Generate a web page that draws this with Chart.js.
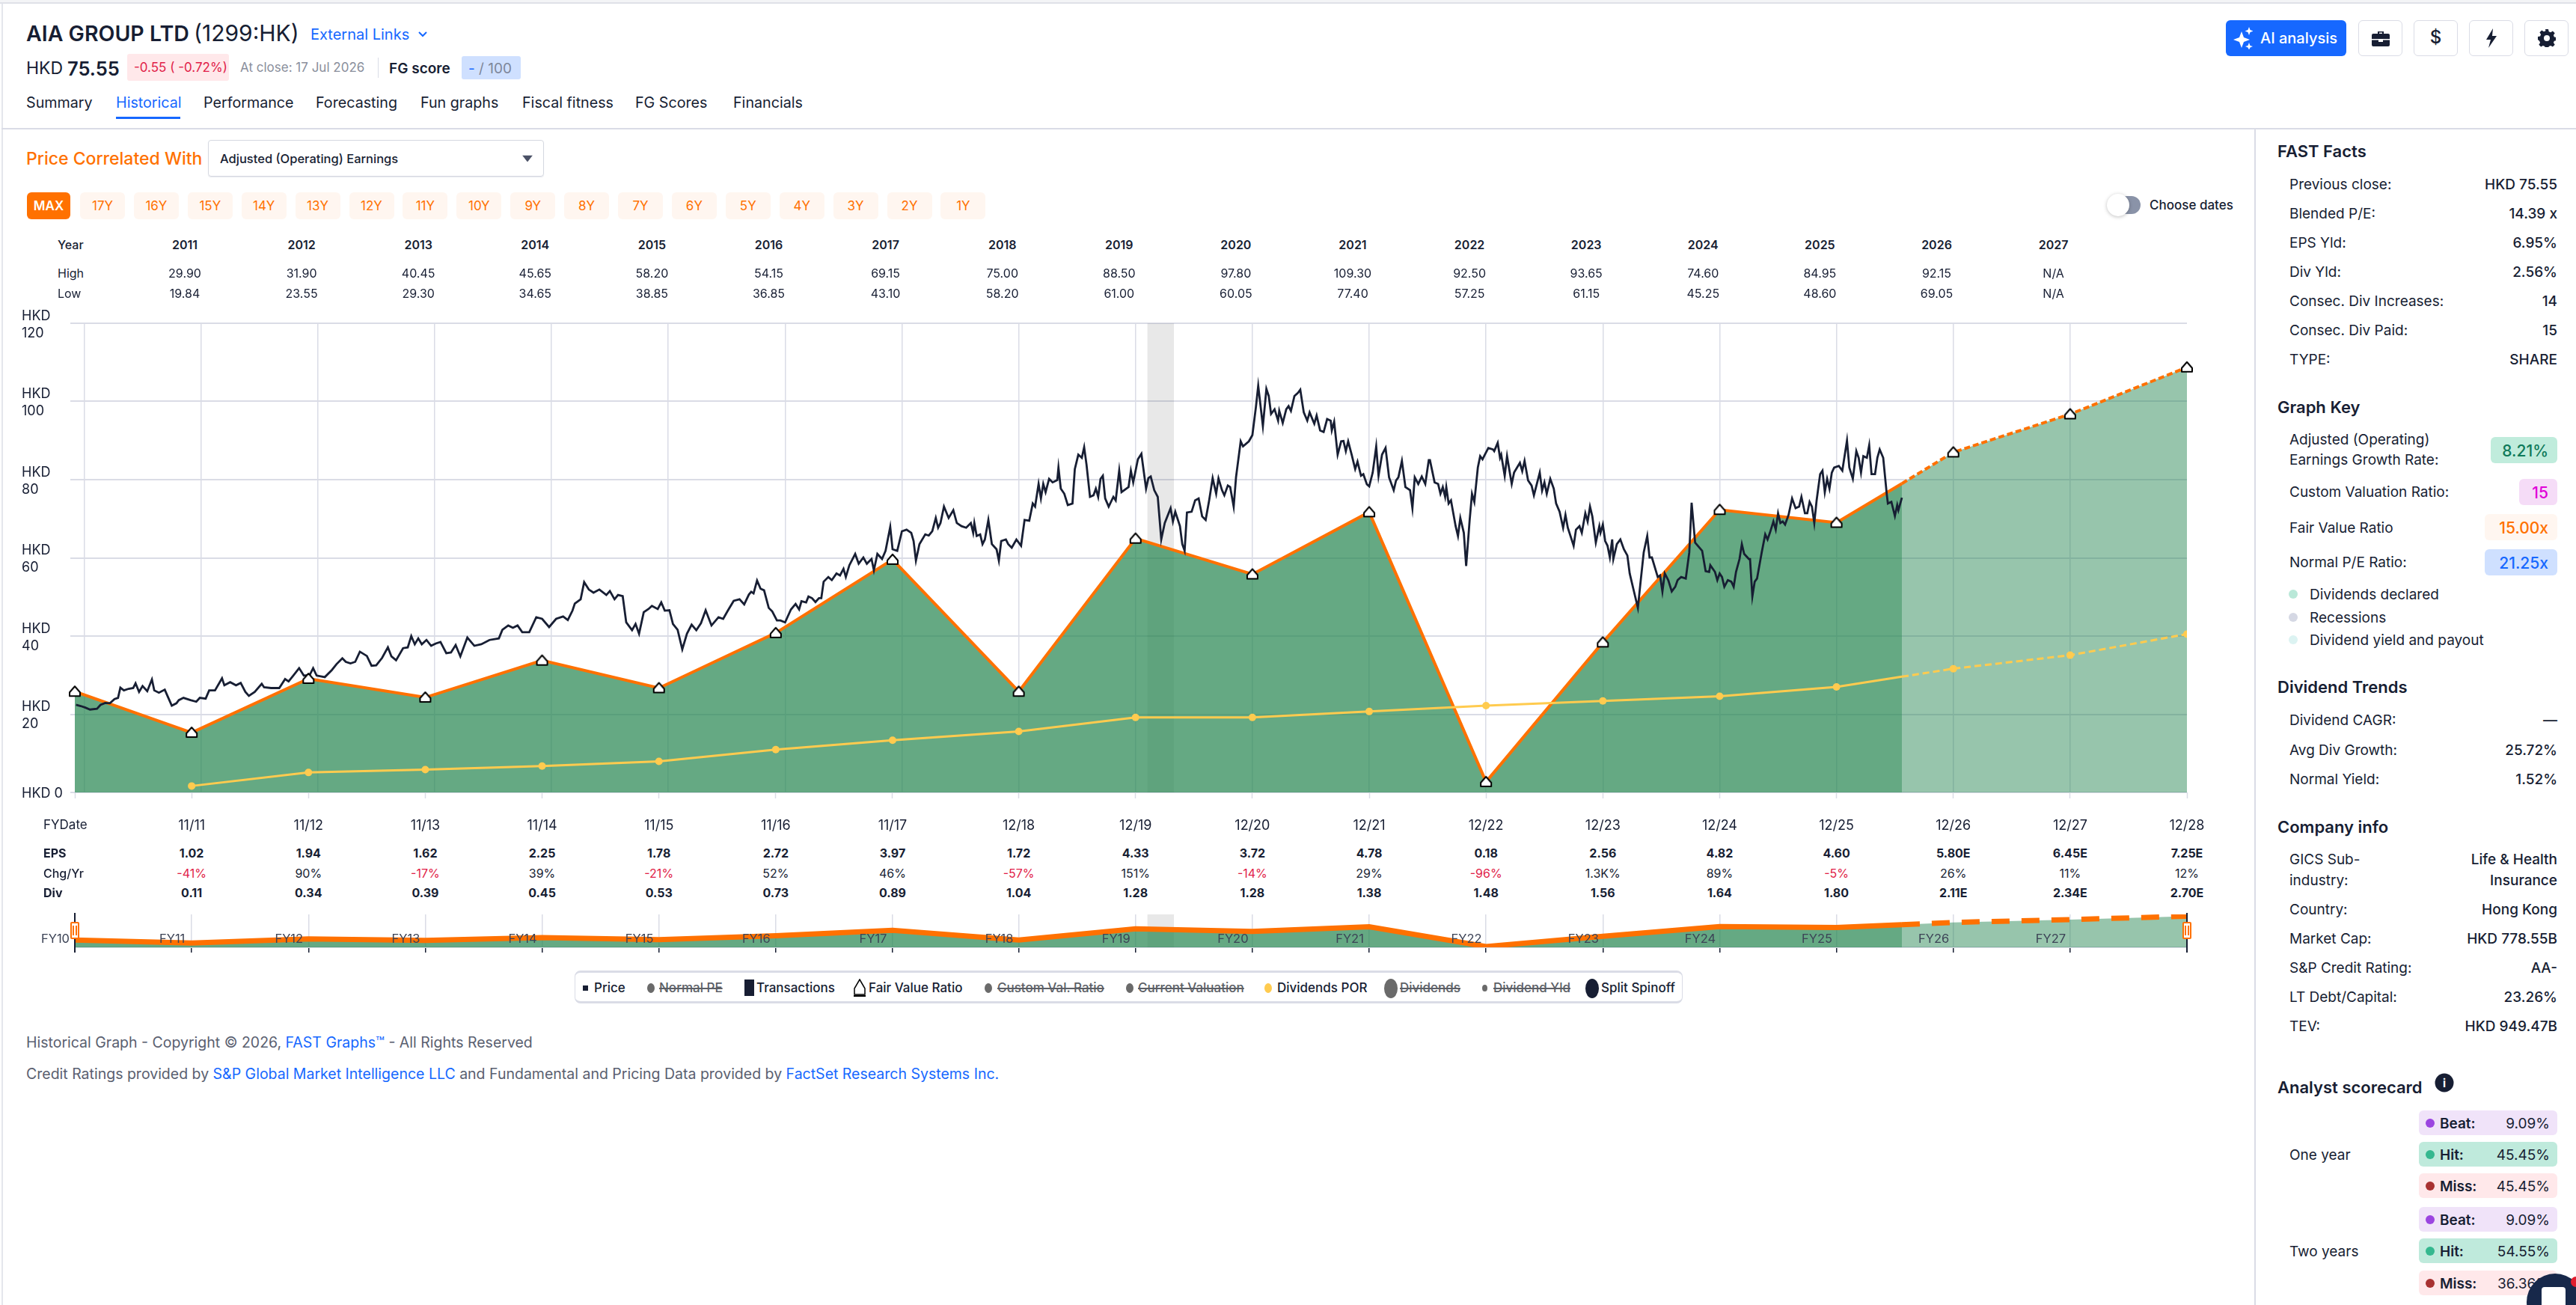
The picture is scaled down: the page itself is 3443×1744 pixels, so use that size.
<!DOCTYPE html>
<html>
<head>
<meta charset="utf-8">
<title>AIA GROUP LTD - Historical</title>
<script src="https://cdn.jsdelivr.net/npm/chart.js@4"></script>
<style>
  html, body { margin: 0; padding: 0; background: #fff; }
  body { position: relative; width: 3443px; height: 1744px; overflow: hidden; font-family: Inter, sans-serif; color: #171e33; }
  .t { position: absolute; white-space: nowrap; transform: translateY(-50%); }
  .box { position: absolute; box-sizing: border-box; }
  canvas { position: absolute; left: 0; }
  s { text-decoration-thickness: 2px; color: #5c5f66; }
</style>
</head>
<body>
<canvas id="graficoPreco" width="3013" height="720" style="top:400px"></canvas>
<canvas id="graficoNav" width="3013" height="64" style="top:1215px"></canvas>
<script>
// dates are years since 2000 as decimals, 11.92 = end of Nov 2011
const fyDates = [10.92, 11.92, 12.92, 13.92, 14.92, 15.92, 16.92, 17.92, 19, 20, 21, 22, 23, 24, 25, 26, 27, 28, 29];
const fyDateLabels = ['', '11/11', '11/12', '11/13', '11/14', '11/15', '11/16', '11/17', '12/18', '12/19', '12/20', '12/21', '12/22', '12/23', '12/24', '12/25', '12/26', '12/27', '12/28'];
const fyNames = ['FY10', 'FY11', 'FY12', 'FY13', 'FY14', 'FY15', 'FY16', 'FY17', 'FY18', 'FY19', 'FY20', 'FY21', 'FY22', 'FY23', 'FY24', 'FY25', 'FY26', 'FY27'];
const fairValue = [25.8, 15.3, 29.1, 24.3, 33.75, 26.7, 40.8, 59.55, 25.8, 64.95, 55.8, 71.7, 2.7, 38.4, 72.3, 69.0, 87.0, 96.75, 108.75];
const dividendsPor = [null, 1.65, 5.1, 5.85, 6.75, 7.95, 10.95, 13.35, 15.6, 19.2, 19.2, 20.7, 22.2, 23.4, 24.6, 27.0, 31.65, 35.1, 40.5];
const nowDate = 26.56;
const fairValueNow = 79;
const dividendsPorNow = 29.6;
const recessionDates = [20.10, 20.33];
const gridYears = [11, 12, 13, 14, 15, 16, 17, 18, 19, 20, 21, 22, 23, 24, 25, 26, 27, 28];
const priceTicks = [0, 20, 40, 60, 80, 100, 120];

const priceDates = [
  10.93, 10.97, 11.01, 11.05, 11.11, 11.14, 11.18, 11.22, 11.26, 11.29,
  11.31, 11.34, 11.38, 11.42, 11.44, 11.47, 11.50, 11.54, 11.58, 11.60,
  11.64, 11.69, 11.71, 11.75, 11.79, 11.81, 11.85, 11.91, 11.96, 11.99,
  12.04, 12.07, 12.12, 12.18, 12.20, 12.25, 12.30, 12.34, 12.38, 12.41,
  12.46, 12.52, 12.54, 12.60, 12.67, 12.72, 12.75, 12.79, 12.84, 12.88,
  12.93, 12.96, 12.99, 13.06, 13.12, 13.16, 13.21, 13.24, 13.28, 13.32,
  13.36, 13.42, 13.46, 13.50, 13.55, 13.60, 13.63, 13.67, 13.73, 13.77,
  13.80, 13.83, 13.86, 13.89, 13.93, 13.97, 14.01, 14.05, 14.10, 14.14,
  14.18, 14.22, 14.28, 14.34, 14.40, 14.47, 14.55, 14.58, 14.63, 14.67,
  14.71, 14.75, 14.81, 14.87, 14.92, 14.98, 15.04, 15.10, 15.14, 15.18,
  15.20, 15.25, 15.28, 15.32, 15.36, 15.41, 15.47, 15.50, 15.54, 15.57,
  15.61, 15.64, 15.69, 15.72, 15.75, 15.79, 15.83, 15.86, 15.91, 15.94,
  15.97, 16.01, 16.04, 16.08, 16.12, 16.16, 16.20, 16.24, 16.28, 16.32,
  16.37, 16.43, 16.47, 16.51, 16.56, 16.61, 16.65, 16.69,
  16.71, 16.73, 16.76, 16.79, 16.82, 16.86, 16.89, 16.93, 16.96, 17.00,
  17.05, 17.09, 17.12, 17.14, 17.18, 17.20, 17.23, 17.26, 17.29, 17.31,
  17.33, 17.37, 17.40, 17.44, 17.47, 17.50, 17.52, 17.55, 17.60, 17.63,
  17.67, 17.70, 17.74, 17.76, 17.79, 17.83, 17.86, 17.90, 17.92, 17.96,
  18.00, 18.04, 18.08, 18.10, 18.12, 18.15, 18.20, 18.23, 18.26, 18.29,
  18.31, 18.33, 18.36, 18.40, 18.44, 18.47, 18.51, 18.55, 18.59, 18.61,
  18.62, 18.64, 18.67, 18.69, 18.71, 18.74, 18.77, 18.81, 18.83, 18.85,
  18.89, 18.91, 18.94, 18.98, 19.02, 19.05, 19.09, 19.12, 19.14, 19.17,
  19.19, 19.21, 19.23, 19.26, 19.29, 19.33, 19.34, 19.36, 19.39, 19.42,
  19.46, 19.48, 19.51, 19.54, 19.56, 19.58, 19.61, 19.64, 19.66, 19.68,
  19.70, 19.72, 19.74, 19.77, 19.81, 19.83, 19.86, 19.88, 19.92, 19.94,
  19.96, 19.98, 20.02, 20.05, 20.09, 20.11, 20.13, 20.16, 20.19, 20.22,
  20.25, 20.30, 20.32, 20.34, 20.38, 20.40, 20.42, 20.44, 20.48, 20.51,
  20.54, 20.57, 20.60, 20.63, 20.66, 20.69, 20.71, 20.74, 20.76, 20.79,
  20.81, 20.84, 20.86, 20.90, 20.92, 20.97, 21.00, 21.03, 21.05, 21.09,
  21.12, 21.14, 21.16, 21.19, 21.22, 21.23, 21.26, 21.29, 21.31, 21.33,
  21.36, 21.39, 21.41, 21.44, 21.47, 21.49, 21.53, 21.55, 21.58, 21.61,
  21.64, 21.67, 21.68, 21.70, 21.73, 21.76, 21.78, 21.80, 21.82, 21.85,
  21.88, 21.90, 21.93, 21.95, 21.98, 22.00, 22.03, 22.06, 22.08, 22.11,
  22.14, 22.17, 22.21, 22.23, 22.25, 22.28, 22.31, 22.35, 22.37, 22.39,
  22.42, 22.45, 22.48, 22.51, 22.52, 22.56, 22.59, 22.61, 22.63, 22.65,
  22.66, 22.68, 22.70, 22.72, 22.74, 22.76, 22.78, 22.81, 22.83, 22.86,
  22.88, 22.90, 22.93, 22.95, 22.97, 22.99, 23.02, 23.06, 23.07, 23.10,
  23.12, 23.13, 23.16, 23.18, 23.22, 23.24, 23.29, 23.31, 23.33, 23.36,
  23.39, 23.41, 23.46, 23.48, 23.50, 23.52, 23.55, 23.58, 23.60, 23.63,
  23.66, 23.68, 23.70, 23.75, 23.77, 23.80, 23.82, 23.85, 23.87, 23.89,
  23.91, 23.94, 23.97, 23.98, 24.00, 24.02, 24.04, 24.06, 24.08, 24.09,
  24.12, 24.15, 24.18, 24.21, 24.23, 24.26, 24.30, 24.32, 24.35, 24.38,
  24.40, 24.42, 24.47, 24.49, 24.51, 24.53, 24.56, 24.59, 24.62, 24.64,
  24.67, 24.71, 24.74, 24.76, 24.79, 24.85, 24.88, 24.91, 24.92, 24.96,
  24.98, 25.00, 25.02, 25.04, 25.07, 25.10, 25.12, 25.14, 25.17, 25.19,
  25.21, 25.25, 25.26, 25.28, 25.30, 25.32, 25.36, 25.39, 25.41, 25.43,
  25.46, 25.48, 25.50, 25.52, 25.54, 25.56, 25.59, 25.62, 25.65, 25.68,
  25.70, 25.73, 25.75, 25.77, 25.79, 25.81, 25.83, 25.86, 25.88, 25.90,
  25.92, 25.94, 25.96, 25.98, 26.02, 26.05, 26.09, 26.11, 26.14, 26.17,
  26.19, 26.21, 26.23, 26.26, 26.28, 26.30, 26.33, 26.35, 26.37, 26.40,
  26.43, 26.44, 26.47, 26.50, 26.52, 26.53, 26.56
];
const priceValues = [
  22.4, 22.1, 21.7, 21.2, 21.4, 22.4, 22.9, 22.8, 23.9, 24.2,
  26.8, 26.1, 26.5, 26.7, 27.9, 25.7, 27.2, 25.9, 28.9, 26.1,
  25.5, 26.3, 24.9, 22.2, 22.8, 23.6, 24.2, 23.6, 23.2, 24.2,
  24.0, 26.1, 26.1, 29.2, 27.4, 28.2, 27.4, 28.0, 25.7, 24.7,
  25.7, 27.8, 26.9, 26.7, 26.7, 29.0, 28.4, 29.9, 31.8, 29.9,
  30.0, 31.8, 29.9, 29.5, 31.3, 32.8, 34.3, 33.4, 33.0, 33.4,
  36.0, 34.9, 32.4, 32.5, 34.4, 37.1, 34.8, 33.8, 36.9, 37.1,
  40.0, 37.9, 39.4, 37.9, 39.0, 37.5, 38.1, 38.5, 35.6, 35.8,
  37.7, 34.8, 39.6, 37.5, 37.9, 39.0, 39.4, 41.6, 42.7, 42.1,
  42.7, 41.0, 41.0, 44.8, 44.4, 42.3, 44.4, 45.0, 44.1, 46.5,
  48.3, 49.4, 53.8, 51.9, 51.1, 51.9, 50.5, 51.5, 49.4, 50.5,
  50.2, 43.5, 41.5, 43.1, 40.6, 46.1, 46.9, 47.7, 46.9, 48.6,
  46.5, 46.6, 43.1, 41.6, 36.6, 40.6, 42.9, 41.5, 43.3, 46.6,
  42.7, 44.8, 44.4, 46.5, 49.0, 49.4, 48.1, 50.6,
  51.3, 50.9, 54.2, 52.1, 51.7, 47.2, 46.3, 44.0, 44.0, 43.5,
  46.8, 48.2, 46.8, 48.9, 48.6, 50.1, 49.7, 48.7, 49.7, 49.7,
  53.9, 55.1, 54.3, 56.0, 55.5, 57.2, 55.1, 58.1, 61.0, 58.5,
  60.1, 58.5, 59.7, 56.8, 61.0, 59.7, 61.8, 67.9, 62.2, 61.8,
  66.8, 67.2, 66.4, 64.3, 59.3, 63.5, 66.0, 65.7, 66.8, 70.2,
  67.7, 68.9, 73.1, 70.2, 72.2, 68.9, 68.1, 67.7, 68.9, 66.4,
  68.9, 65.6, 66.0, 63.5, 64.7, 69.7, 63.5, 62.2, 59.3, 64.3,
  64.7, 63.5, 62.6, 64.7, 63.1, 69.7, 69.5, 73.9, 73.1, 78.9,
  75.2, 78.9, 76.8, 80.2, 79.3, 79.9, 83.1, 77.7, 76.4, 73.5,
  73.9, 82.7, 86.4, 85.6, 88.3, 83.9, 75.6, 76.0, 77.7, 75.6,
  80.2, 81.0, 75.2, 73.1, 75.6, 74.7, 82.3, 76.8, 77.7, 78.1,
  82.3, 79.3, 85.2, 86.6, 77.7, 80.4, 80.8, 77.3, 75.6, 64.7,
  68.9, 72.7, 69.3, 71.8, 68.1, 63.5, 61.8, 71.6, 71.8, 74.7,
  75.2, 70.6, 69.7, 74.7, 80.4, 76.4, 80.3, 77.3, 76.0, 78.5,
  78.1, 73.1, 80.6, 89.8, 88.5, 89.8, 91.4, 98.5, 104.0, 93.7,
  103.2, 101.4, 96.8, 98.0, 95.1, 97.6, 94.5, 98.0, 98.8, 97.6,
  101.4, 102.2, 103.0, 97.2, 95.1, 97.2, 94.3, 96.4, 92.6, 92.2,
  95.5, 95.1, 92.6, 94.8, 86.4, 89.8, 89.9, 87.3, 89.8, 86.4,
  82.7, 84.6, 81.0, 81.4, 78.8, 78.3, 81.8, 88.5, 81.0, 86.4,
  88.1, 80.6, 77.3, 79.8, 80.6, 84.8, 78.1, 77.3, 72.7, 80.6,
  78.9, 80.8, 78.9, 85.0, 85.0, 79.3, 78.9, 76.4, 78.1, 75.6,
  78.1, 73.9, 74.7, 71.4, 68.1, 65.6, 70.2, 66.4, 57.9, 69.7,
  76.4, 74.3, 83.1, 86.0, 85.2, 86.4, 88.1, 87.7, 87.3, 89.4,
  85.6, 86.4, 81.0, 86.0, 78.9, 81.8, 84.3, 82.2, 84.8, 79.8,
  78.5, 76.0, 81.8, 77.2, 79.3, 76.4, 80.2, 77.7, 73.9, 71.8,
  67.7, 71.0, 67.7, 63.1, 67.2, 68.1, 66.4, 71.4, 69.3, 73.1,
  70.6, 63.9, 68.1, 66.4, 68.5, 64.3, 63.1, 60.1, 64.7, 59.7,
  63.5, 64.7, 62.2, 60.6, 56.0, 52.2, 47.2, 53.0, 61.4, 65.6,
  60.1, 60.1, 55.1, 55.5, 51.4, 56.0, 54.3, 51.4, 52.6, 54.3,
  55.1, 54.7, 61.4, 74.1, 63.9, 61.8, 56.6, 56.4, 58.1, 56.4,
  54.3, 56.0, 55.1, 52.6, 54.3, 53.9, 52.6, 56.4, 59.7, 63.5,
  61.0, 59.7, 59.7, 50.1, 53.9, 54.7, 61.4, 66.0, 64.7, 66.4,
  69.3, 67.2, 71.4, 68.9, 69.3, 68.5, 71.0, 75.2, 72.7, 73.1,
  75.6, 71.4, 71.4, 74.3, 73.1, 68.9, 74.7, 81.4, 82.3, 76.8,
  80.2, 77.7, 81.8, 83.1, 83.5, 82.3, 90.0, 83.1, 80.2, 87.3,
  85.6, 81.8, 86.0, 85.6, 88.8, 81.4, 81.4, 85.6, 87.7, 85.6,
  76.4, 73.9, 74.3, 70.7, 73.5, 72.2, 75.4
];

const years = ['2011', '2012', '2013', '2014', '2015', '2016', '2017', '2018', '2019', '2020', '2021', '2022', '2023', '2024', '2025', '2026', '2027'];
const highs = ['29.90', '31.90', '40.45', '45.65', '58.20', '54.15', '69.15', '75.00', '88.50', '97.80', '109.30', '92.50', '93.65', '74.60', '84.95', '92.15', 'N/A'];
const lows = ['19.84', '23.55', '29.30', '34.65', '38.85', '36.85', '43.10', '58.20', '61.00', '60.05', '77.40', '57.25', '61.15', '45.25', '48.60', '69.05', 'N/A'];
const eps = ['1.02', '1.94', '1.62', '2.25', '1.78', '2.72', '3.97', '1.72', '4.33', '3.72', '4.78', '0.18', '2.56', '4.82', '4.60', '5.80E', '6.45E', '7.25E'];
const chgYr = ['-41%', '90%', '-17%', '39%', '-21%', '52%', '46%', '-57%', '151%', '-14%', '29%', '-96%', '1.3K%', '89%', '-5%', '26%', '11%', '12%'];
const divs = ['0.11', '0.34', '0.39', '0.45', '0.53', '0.73', '0.89', '1.04', '1.28', '1.28', '1.38', '1.48', '1.56', '1.64', '1.80', '2.11E', '2.34E', '2.70E'];
const rangeButtons = ['MAX', '17Y', '16Y', '15Y', '14Y', '13Y', '12Y', '11Y', '10Y', '9Y', '8Y', '7Y', '6Y', '5Y', '4Y', '3Y', '2Y', '1Y'];

const ORANGE = '#ff7100', BLUE = '#1668ff', INK = '#171e33', LINE = '#dadce6';
const VERDE = 'rgba(35,132,78,0.7)', VERDE_CLARO = 'rgba(35,132,78,0.47)';

function pares(datas, valores) {
    return datas.map((d, i) => ({ x: d, y: valores[i] })).filter(p => p.y !== null);
}

function casinha() {
    const c = document.createElement('canvas');
    c.width = 20; c.height = 18;
    const g = c.getContext('2d');
    g.fillStyle = '#fff';
    g.strokeStyle = '#000';
    g.lineWidth = 2;
    g.lineJoin = 'round';
    g.beginPath();
    g.moveTo(10, 2);
    g.lineTo(17, 10);
    g.lineTo(17, 15);
    g.lineTo(3, 15);
    g.lineTo(3, 10);
    g.closePath();
    g.fill();
    g.stroke();
    return c;
}

// dom helpers
function txt(x, y, s, css) {
    const d = document.createElement('div');
    d.className = 't';
    d.style.cssText = `left:${x}px;top:${y}px;` + (css || '');
    d.innerHTML = s;
    document.body.appendChild(d);
    return d;
}
function txtR(xr, y, s, css) {
    return txt(0, y, s, `left:auto;right:${3443 - xr}px;` + (css || ''));
}
function txtC(x, y, s, css) {
    return txt(x, y, s, 'transform:translate(-50%,-50%);' + (css || ''));
}
function box(x, y, w, h, css) {
    const d = document.createElement('div');
    d.className = 'box';
    d.style.cssText = `left:${x}px;top:${y}px;width:${w}px;height:${h}px;` + (css || '');
    document.body.appendChild(d);
    return d;
}

const fvPassado = pares(fyDates.slice(0, 16), fairValue.slice(0, 16)).concat([{ x: nowDate, y: fairValueNow }]);
const fvFuturo = [{ x: nowDate, y: fairValueNow }].concat(pares(fyDates.slice(16), fairValue.slice(16)));
const divPassado = pares(fyDates.slice(0, 16), dividendsPor.slice(0, 16)).concat([{ x: nowDate, y: dividendsPorNow }]);
const divFuturo = [{ x: nowDate, y: dividendsPorNow }].concat(pares(fyDates.slice(16), dividendsPor.slice(16)));

const graficoPreco = new Chart(document.getElementById('graficoPreco').getContext('2d'), {
    type: 'line',
    data: {
        datasets: [
            { label: 'Recession', data: [{ x: recessionDates[0], y: 120 }, { x: recessionDates[1], y: 120 }], borderWidth: 0, pointRadius: 0, fill: 'origin', backgroundColor: 'rgba(0,0,0,0.09)', order: 6 },
            { label: 'Fair Value', data: fvPassado, borderColor: ORANGE, borderWidth: 4, pointRadius: 0, fill: 'origin', backgroundColor: VERDE, order: 5 },
            { label: 'Fair Value est', data: fvFuturo, borderColor: ORANGE, borderWidth: 4, borderDash: [8, 4], pointRadius: 0, fill: 'origin', backgroundColor: VERDE_CLARO, order: 5 },
            { label: 'Dividends POR', data: divPassado, borderColor: '#ffcb4f', borderWidth: 3, pointRadius: ctx => ctx.raw.x === nowDate ? 0 : 5, pointBackgroundColor: '#ffcb4f', pointBorderWidth: 0, order: 4 },
            { label: 'Dividends POR est', data: divFuturo, borderColor: '#ffcb4f', borderWidth: 3, borderDash: [9, 5], pointRadius: ctx => ctx.raw.x === nowDate ? 0 : 5, pointBackgroundColor: '#ffcb4f', pointBorderWidth: 0, order: 4 },
            { label: 'Price', data: pares(priceDates, priceValues), borderColor: INK, borderWidth: 2.8, pointRadius: 0, order: 3 },
            { label: 'Fair Value Ratio', data: pares(fyDates, fairValue), showLine: false, pointStyle: casinha(), clip: false, order: 1 }
        ]
    },
    options: {
        responsive: false,
        animation: false,
        events: [],
        layout: { padding: { left: 29, right: 90, top: 32, bottom: 0 } },
        plugins: { legend: { display: false }, tooltip: { enabled: false } },
        scales: {
            x: {
                type: 'linear', min: 10.92, max: 29,
                border: { display: false },
                afterBuildTicks: axis => { axis.ticks = gridYears.map(v => ({ value: v })); },
                afterFit: axis => { axis.height = 0; },
                ticks: { display: false },
                grid: { color: LINE, lineWidth: 1.5, drawTicks: false }
            },
            xFY: {
                type: 'linear', min: 10.92, max: 29, position: 'bottom',
                border: { display: false },
                afterBuildTicks: axis => { axis.ticks = fyDates.map(v => ({ value: v })); },
                afterFit: axis => { axis.height = 61; },
                ticks: {
                    autoSkip: false, maxRotation: 0, padding: 26, color: INK,
                    font: { family: 'Inter', size: 18 },
                    callback: (v, i) => fyDateLabels[i]
                },
                grid: { drawOnChartArea: false, tickLength: 8, tickColor: LINE, tickWidth: 1.5 }
            },
            y: {
                min: 0, max: 120,
                border: { display: false },
                afterBuildTicks: axis => { axis.ticks = priceTicks.map(v => ({ value: v })); },
                afterFit: axis => { axis.width = 71; },
                ticks: {
                    crossAlign: 'far', color: INK, padding: 0, labelOffset: 2,
                    font: { family: 'Inter', size: 18, lineHeight: 1.28 },
                    callback: v => v === 0 ? 'HKD 0' : ['HKD', String(v)]
                },
                grid: { color: LINE, lineWidth: 2, tickLength: 6 }
            }
        }
    }
});

const graficoNav = new Chart(document.getElementById('graficoNav').getContext('2d'), {
    type: 'line',
    data: {
        datasets: [
            { data: [{ x: recessionDates[0], y: 115 }, { x: recessionDates[1], y: 115 }], borderWidth: 0, pointRadius: 0, fill: 'origin', backgroundColor: 'rgba(0,0,0,0.09)', order: 6 },
            { data: fvPassado, borderColor: ORANGE, borderWidth: 7, pointRadius: 0, fill: 'origin', backgroundColor: VERDE, order: 5 },
            { data: fvFuturo, borderColor: ORANGE, borderWidth: 7, borderDash: [24, 16], pointRadius: 0, fill: 'origin', backgroundColor: VERDE_CLARO, order: 5 }
        ]
    },
    options: {
        responsive: false,
        animation: false,
        events: [],
        layout: { padding: { left: 100, right: 90, top: 7, bottom: 6 } },
        plugins: { legend: { display: false }, tooltip: { enabled: false } },
        scales: {
            x: {
                type: 'linear', min: 10.92, max: 29,
                border: { color: LINE, width: 2 },
                afterBuildTicks: axis => { axis.ticks = fyDates.map(v => ({ value: v })); },
                afterFit: axis => { axis.height = 7; },
                ticks: { display: false },
                grid: { color: LINE, lineWidth: 1.5, tickLength: 7, tickColor: INK, tickWidth: 1.5 }
            },
            y: { min: 0, max: 115, display: false }
        }
    }
});

const xDe = v => graficoPreco.scales.x.getPixelForValue(v);

// page frame
box(0, 0, 3443, 5, 'background:#f3f4f6;border-bottom:2px solid #dfe1e8');
box(2, 5, 2, 1739, 'background:#e4e6ec');
box(2, 171, 3441, 2, `background:${LINE}`);
box(3013, 172, 2, 1572, `background:${LINE}`);

// header
txt(35, 44, 'AIA GROUP LTD', 'font-size:28.5px;font-weight:600');
txt(259, 44, '(1299:HK)', 'font-size:30px;font-weight:400');
txt(415, 46, 'External Links', `font-size:20px;color:${BLUE}`);
txt(558, 46, '<svg width="14" height="10" viewBox="0 0 14 10"><path d="M2 2l5 5 5-5" fill="none" stroke="#1668ff" stroke-width="2"/></svg>', 'line-height:0');
txt(35, 91, 'HKD', 'font-size:23px');
txt(90, 91, '75.55', 'font-size:25.5px;font-weight:600');
box(170, 72, 136, 36, 'background:#ffe8ea;border-radius:3px');
txt(179, 90, '-0.55 ( -0.72%)', 'font-size:17px;color:#e11d48');
txt(321, 90, 'At close: 17 Jul 2026', 'font-size:17px;color:#8a8f9c');
box(505, 77, 1, 27, `background:${LINE}`);
txt(520, 91, 'FG score', 'font-size:19px;font-weight:600');
box(617, 75, 79, 31, 'background:#cfe0ff;border-radius:3px');
txt(626, 91, `<span style="color:${BLUE}">-</span> / 100`, 'font-size:19px;color:#7d8699');

const abas = [['Summary', 35], ['Historical', 155], ['Performance', 272], ['Forecasting', 422], ['Fun graphs', 562], ['Fiscal fitness', 698], ['FG Scores', 849], ['Financials', 980]];
abas.forEach(a => txt(a[1], 137, a[0], 'font-size:19.7px;' + (a[0] === 'Historical' ? `color:${BLUE}` : '')));
box(155, 156, 86, 3, `background:${BLUE}`);

// top right buttons
box(2975, 27, 161, 48, `background:${BLUE};border-radius:6px`);
txt(2985, 51, '<svg width="26" height="30" viewBox="0 0 26 30"><path d="M11 6l3 8 8 3-8 3-3 8-3-8-8-3 8-3z M21 0l1.500 4 4 1.500-4 1.500-1.500 4-1.500-4-4-1.500 4-1.500z M21 21l1.500 4 3.500 1-3.500 1.500-1.500 3-1.500-3-3.500-1.500 3.500-1z" fill="#fff"/></svg>', 'line-height:0');
txt(3021, 51, 'AI analysis', 'font-size:20px;font-weight:500;color:#fff');
const iconesTopo = [
    '<svg width="24" height="22" viewBox="0 0 24 22"><path d="M8 5V2h8v3h6a2 2 0 0 1 2 2v5H0V7a2 2 0 0 1 2-2z M10 3.500V5h4V3.500z M0 13.500h9V16h6v-2.500h9V20a2 2 0 0 1-2 2H2a2 2 0 0 1-2-2z" fill="#171e33" fill-rule="evenodd"/></svg>',
    '<span style="font-size:24px;font-weight:500">$</span>',
    '<svg width="14" height="26" viewBox="0 0 14 26"><path d="M9 0L0 15h6l-3 11 11-16H8z" fill="#171e33"/></svg>',
    '<svg width="24" height="24" viewBox="0 0 24 24"><path d="M10 0h4l.7 3.200 2.400 1 2.800-1.800 2.800 2.800-1.800 2.800 1 2.400 3.100.600v4l-3.100.700-1 2.400 1.800 2.700-2.800 2.800-2.800-1.700-2.400 1-.7 3.100h-4l-.7-3.100-2.400-1-2.700 1.700-2.800-2.800 1.700-2.700-1-2.400L0 14v-4l3.100-.6 1-2.400-1.700-2.800 2.800-2.800L8 3.200l2.400-1z M12 8a4 4 0 1 0 0 8 4 4 0 0 0 0-8z" fill="#171e33" fill-rule="evenodd"/></svg>'
];
[3152, 3226, 3300, 3374].forEach((x, i) => {
    box(x, 27, 59, 48, `border:1.5px solid ${LINE};border-radius:6px`);
    txtC(x + 29.5, 51, iconesTopo[i], 'line-height:0');
});

// controls
txt(35, 212, 'Price Correlated With', `font-size:23px;font-weight:500;color:${ORANGE}`);
box(278, 187, 449, 49, 'border:1.5px solid #d5d8e0;border-radius:4px;box-shadow:0 1px 1px #e6e8ee');
txt(294, 212, 'Adjusted (Operating) Earnings', 'font-size:16.5px;font-weight:500');
txt(698, 212, '<svg width="14" height="9" viewBox="0 0 14 9"><path d="M0 0h14L7 9z" fill="#4a5166"/></svg>', 'line-height:0');

rangeButtons.forEach((b, i) => {
    const cx = i === 0 ? 65 : 137 + (i - 1) * 71.9;
    const ativo = i === 0;
    box(cx - (ativo ? 29 : 30), 257, ativo ? 58 : 60, 36, `background:${ativo ? ORANGE : '#fff6f0'};border-radius:6px`);
    txtC(cx, 275, b, `font-size:17px;font-weight:${ativo ? 600 : 400};color:${ativo ? '#fff' : ORANGE}`);
});

box(2831, 262, 30, 24, 'background:#8a93a8;border-radius:12px');
box(2816, 259, 30, 30, 'background:#fff;border-radius:50%;box-shadow:0 1px 5px rgba(0,0,0,.25)');
txt(2873, 274, 'Choose dates', 'font-size:17px;font-weight:500');

// high / low table
txt(77, 327, 'Year', 'font-size:16px;font-weight:500');
txt(77, 365, 'High', 'font-size:16px');
txt(77, 392, 'Low', 'font-size:16px');
years.forEach((y, i) => {
    const cx = 247 + i * 156.1;
    txtC(cx, 327, y, 'font-size:16px;font-weight:600');
    txtC(cx, 365, highs[i], 'font-size:16px');
    txtC(cx, 392, lows[i], 'font-size:16px');
});

// rows under the graph, lined up on the graph scale
txt(58, 1102, 'FYDate', 'font-size:17px');
txt(58, 1140, 'EPS', 'font-size:16px;font-weight:700');
txt(58, 1167, 'Chg/Yr', 'font-size:16px;font-weight:500');
txt(58, 1193, 'Div', 'font-size:16px;font-weight:700');
eps.forEach((e, i) => {
    const cx = xDe(fyDates[i + 1]);
    txtC(cx, 1140, e, 'font-size:16px;font-weight:700');
    txtC(cx, 1167, chgYr[i], 'font-size:16px;' + (chgYr[i][0] === '-' ? 'color:#e11d48' : ''));
    txtC(cx, 1193, divs[i], 'font-size:16px;font-weight:700');
});

// navigator labels and handles
fyNames.forEach((n, i) => txtC(xDe(fyDates[i]) - 26, 1254, n, 'font-size:16.5px;color:#3c4356'));
box(99, 1220, 2, 53, `background:${INK}`);
box(2922, 1220, 2, 53, `background:${INK}`);
[94, 2917].forEach(x => {
    box(x, 1232, 12, 23, `background:#fff;border:2px solid ${ORANGE};border-radius:2px`);
    box(x + 3, 1237, 2, 13, `background:${ORANGE}`);
    box(x + 7, 1237, 2, 13, `background:${ORANGE}`);
});

// legend
box(768, 1297, 1481, 44, `border:1.5px solid ${LINE};border-top-width:3px;border-bottom-width:3px;border-radius:8px`);
const itensLegenda = [
    ['Price', 794, false], ['Normal PE', 881, true], ['Transactions', 1011, false], ['Fair Value Ratio', 1161, false],
    ['Custom Val. Ratio', 1333, true], ['Current Valuation', 1521, true], ['Dividends POR', 1707, false],
    ['Dividends', 1871, true], ['Dividend Yld', 1996, true], ['Split Spinoff', 2140, false]
];
itensLegenda.forEach(i => txt(i[1], 1320, i[2] ? `<s>${i[0]}</s>` : i[0], 'font-size:17px;font-weight:500'));
box(779, 1317, 7, 7, `background:${INK}`);
box(865, 1314, 10, 13, 'background:#6a6a6a;border-radius:50%');
box(995, 1309, 13, 22, `background:${INK}`);
txt(1141, 1320, '<svg width="16" height="24" viewBox="0 0 16 24"><path d="M8 1l7 12v8H1v-8z" fill="#fff" stroke="#000" stroke-width="1.500"/><path d="M0 23h16" stroke="#000" stroke-width="2"/></svg>', 'line-height:0');
box(1316, 1314, 10, 13, 'background:#6a6a6a;border-radius:50%');
box(1505, 1314, 10, 13, 'background:#6a6a6a;border-radius:50%');
box(1690, 1314, 10, 13, 'background:#ffcb4f;border-radius:50%');
box(1850, 1308, 18, 26, 'background:#6a6a6a;border-radius:50%');
box(1981, 1316, 7, 9, 'background:#6a6a6a;border-radius:50%');
box(2119, 1308, 18, 26, `background:${INK};border-radius:50%`);

// footer
const CINZA = 'font-size:19.5px;color:#5a6070';
txt(35, 1393, `Historical Graph - Copyright © 2026, <span style="color:${BLUE}">FAST Graphs™</span> - All Rights Reserved`, CINZA);
txt(35, 1435, `Credit Ratings provided by <span style="color:${BLUE}">S&amp;P Global Market Intelligence LLC</span> and Fundamental and Pricing Data provided by <span style="color:${BLUE}">FactSet Research Systems Inc.</span>`, CINZA);

// side panel
const HEAD = 'font-size:22px;font-weight:600';
const ROW = 'font-size:19px';
const VAL = 'font-size:19px;font-weight:500';
const painelLinhas = [
    ['Previous close:', 'HKD 75.55', 246], ['Blended P/E:', '14.39 x', 285], ['EPS Yld:', '6.95%', 324], ['Div Yld:', '2.56%', 363],
    ['Consec. Div Increases:', '14', 402], ['Consec. Div Paid:', '15', 441], ['TYPE:', 'SHARE', 480],
    ['Dividend CAGR:', '—', 962], ['Avg Div Growth:', '25.72%', 1002], ['Normal Yield:', '1.52%', 1041],
    ['Country:', 'Hong Kong', 1215], ['Market Cap:', 'HKD 778.55B', 1254], ['S&amp;P Credit Rating:', 'AA-', 1293],
    ['LT Debt/Capital:', '23.26%', 1332], ['TEV:', 'HKD 949.47B', 1371]
];
txt(3044, 202, 'FAST Facts', HEAD);
txt(3044, 544, 'Graph Key', HEAD);
txt(3044, 918, 'Dividend Trends', HEAD);
txt(3044, 1105, 'Company info', HEAD);
txt(3044, 1453, 'Analyst scorecard', HEAD);
painelLinhas.forEach(l => {
    txt(3060, l[2], l[0], ROW);
    txtR(3418, l[2], l[1], VAL);
});
txt(3060, 1148, 'GICS Sub-', ROW);
txt(3060, 1176, 'industry:', ROW);
txtR(3418, 1148, 'Life &amp; Health', VAL);
txtR(3418, 1176, 'Insurance', VAL);

txt(3060, 587, 'Adjusted (Operating)', ROW);
txt(3060, 614, 'Earnings Growth Rate:', ROW);
txt(3060, 657, 'Custom Valuation Ratio:', ROW);
txt(3060, 705, 'Fair Value Ratio', ROW);
txt(3060, 751, 'Normal P/E Ratio:', ROW);
const selos = [['8.21%', 3329, 584, 35, '#c0ecdc', '#0f7a5a'], ['15', 3367, 640, 35, '#f5dcf7', '#e000d8'], ['15.00x', 3321, 687, 35, '#fff6f0', ORANGE], ['21.25x', 3321, 734, 35, '#cfe0ff', BLUE]];
selos.forEach(s => {
    box(s[1], s[2], 3418 - s[1], s[3], `background:${s[4]};border-radius:6px`);
    txtR(3406, s[2] + s[3] / 2, s[0], `font-size:21px;font-weight:500;color:${s[5]}`);
});
[['Dividends declared', 794, '#b9e8d8'], ['Recessions', 825, '#d5d8e4'], ['Dividend yield and payout', 855, '#dcf3f2']].forEach(k => {
    box(3059, k[1] - 6, 12, 12, `background:${k[2]};border-radius:50%`);
    txt(3087, k[1], k[0], ROW);
});

txtC(3267, 1447, 'i', `width:25px;height:25px;line-height:25px;text-align:center;border-radius:50%;background:${INK};color:#fff;font-size:15px;font-weight:700`);
txt(3060, 1543, 'One year', ROW);
txt(3060, 1672, 'Two years', ROW);
const placar = [
    ['Beat:', '9.09%', 1484, '#f0e3f9', '#9b45e0'], ['Hit:', '45.45%', 1526, '#bfeadc', '#35b88f'], ['Miss:', '45.45%', 1568, '#ffe8ea', '#a83232'],
    ['Beat:', '9.09%', 1613, '#f0e3f9', '#9b45e0'], ['Hit:', '54.55%', 1655, '#bfeadc', '#35b88f'], ['Miss:', '36.36%', 1698, '#ffe8ea', '#a83232']
];
placar.forEach(p => {
    box(3233, p[2], 185, 33, `background:${p[3]};border-radius:6px`);
    box(3242, p[2] + 10.5, 12, 12, `background:${p[4]};border-radius:50%`);
    txt(3261, p[2] + 16.5, p[0], 'font-size:19px;font-weight:600');
    txtR(3408, p[2] + 16.5, p[1], 'font-size:19px');
});

// chat bubble in the corner
box(3377, 1702, 76, 76, 'background:#17284a;border-radius:50%');
box(3397, 1720, 32, 30, 'background:#fff;border-radius:4px');
box(3436, 1706, 14, 14, 'background:#e11d2e;border-radius:50%');
</script>
</body>
</html>
